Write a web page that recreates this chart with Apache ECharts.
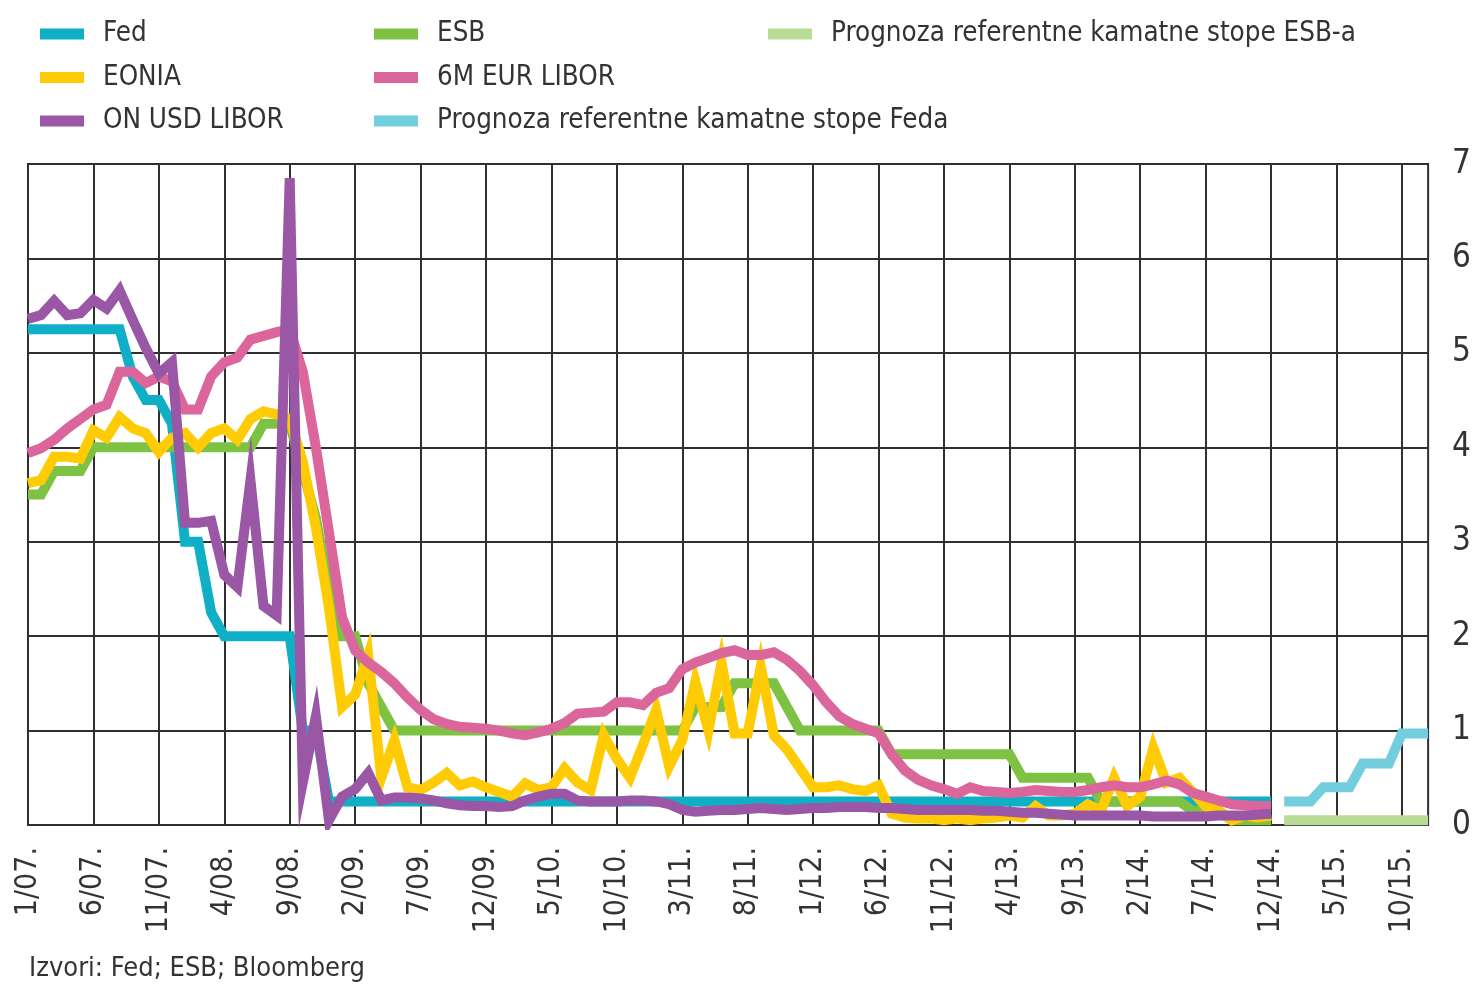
<!DOCTYPE html>
<html>
<head>
<meta charset="utf-8">
<script src="https://cdn.jsdelivr.net/npm/echarts@6/dist/echarts.min.js"></script>
<style>
html,body{margin:0;padding:0;background:#fff;}
#chart{width:1474px;height:985px;}
</style>
</head>
<body>
<div id="chart"></div>
<script>
var categories = [
"1/07.","2/07.","3/07.","4/07.","5/07.","6/07.","7/07.","8/07.","9/07.","10/07.","11/07.","12/07.",
"1/08.","2/08.","3/08.","4/08.","5/08.","6/08.","7/08.","8/08.","9/08.","10/08.","11/08.","12/08.",
"1/09.","2/09.","3/09.","4/09.","5/09.","6/09.","7/09.","8/09.","9/09.","10/09.","11/09.","12/09.",
"1/10.","2/10.","3/10.","4/10.","5/10.","6/10.","7/10.","8/10.","9/10.","10/10.","11/10.","12/10.",
"1/11.","2/11.","3/11.","4/11.","5/11.","6/11.","7/11.","8/11.","9/11.","10/11.","11/11.","12/11.",
"1/12.","2/12.","3/12.","4/12.","5/12.","6/12.","7/12.","8/12.","9/12.","10/12.","11/12.","12/12.",
"1/13.","2/13.","3/13.","4/13.","5/13.","6/13.","7/13.","8/13.","9/13.","10/13.","11/13.","12/13.",
"1/14.","2/14.","3/14.","4/14.","5/14.","6/14.","7/14.","8/14.","9/14.","10/14.","11/14.","12/14.",
"1/15.","2/15.","3/15.","4/15.","5/15.","6/15.","7/15.","8/15.","9/15.","10/15.","11/15.","12/15."
];

var fed = [
5.25,5.25,5.25,5.25,5.25,5.25,5.25,5.25,4.75,4.5,
4.5,4.25,3.0,3.0,2.25,2.0,2.0,2.0,2.0,2.0,
2.0,1.0,1.0,0.25,0.25,0.25,0.25,0.25,0.25,0.25,
0.25,0.25,0.25,0.25,0.25,0.25,0.25,0.25,0.25,0.25,
0.25,0.25,0.25,0.25,0.25,0.25,0.25,0.25,0.25,0.25,
0.25,0.25,0.25,0.25,0.25,0.25,0.25,0.25,0.25,0.25,
0.25,0.25,0.25,0.25,0.25,0.25,0.25,0.25,0.25,0.25,
0.25,0.25,0.25,0.25,0.25,0.25,0.25,0.25,0.25,0.25,
0.25,0.25,0.25,0.25,0.25,0.25,0.25,0.25,0.25,0.25,
0.25,0.25,0.25,0.25,0.25,0.25,null,null,null,null,
null,null,null,null,null,null,null,null
];

var esb = [
3.5,3.5,3.75,3.75,3.75,4.0,4.0,4.0,4.0,4.0,
4.0,4.0,4.0,4.0,4.0,4.0,4.0,4.0,4.25,4.25,
4.25,3.75,3.25,2.5,2.0,2.0,1.5,1.25,1.0,1.0,
1.0,1.0,1.0,1.0,1.0,1.0,1.0,1.0,1.0,1.0,
1.0,1.0,1.0,1.0,1.0,1.0,1.0,1.0,1.0,1.0,
1.0,1.25,1.25,1.25,1.5,1.5,1.5,1.5,1.25,1.0,
1.0,1.0,1.0,1.0,1.0,1.0,0.75,0.75,0.75,0.75,
0.75,0.75,0.75,0.75,0.75,0.75,0.5,0.5,0.5,0.5,
0.5,0.5,0.25,0.25,0.25,0.25,0.25,0.25,0.25,0.15,
0.15,0.15,0.05,0.05,0.05,0.05,null,null,null,null,
null,null,null,null,null,null,null,null
];

var eonia = [
3.62,3.65,3.9,3.9,3.88,4.18,4.1,4.32,4.2,4.15,
3.95,4.1,4.15,4.0,4.15,4.2,4.08,4.3,4.38,4.35,
4.3,3.85,3.15,2.3,1.25,1.38,1.8,0.5,0.9,0.4,
0.37,0.45,0.55,0.42,0.46,0.4,0.35,0.3,0.44,0.37,
0.4,0.6,0.45,0.37,0.95,0.7,0.5,0.85,1.22,0.62,
0.9,1.52,1.0,1.72,0.97,0.97,1.68,0.95,0.8,0.6,
0.4,0.4,0.42,0.38,0.36,0.42,0.12,0.08,0.07,0.07,
0.05,0.07,0.05,0.07,0.08,0.1,0.08,0.2,0.1,0.1,
0.12,0.22,0.15,0.5,0.2,0.3,0.82,0.45,0.5,0.35,
0.2,0.15,0.05,0.1,0.08,0.1,null,null,null,null,
null,null,null,null,null,null,null,null
];

var eurLibor6m = [
3.94,3.99,4.08,4.2,4.3,4.4,4.45,4.8,4.8,4.68,
4.75,4.7,4.4,4.4,4.75,4.9,4.95,5.14,5.18,5.22,
5.25,4.8,4.0,3.1,2.2,1.85,1.72,1.62,1.5,1.35,
1.22,1.12,1.07,1.04,1.03,1.02,1.0,0.97,0.95,0.98,
1.02,1.08,1.18,1.19,1.2,1.3,1.3,1.27,1.4,1.45,
1.65,1.72,1.77,1.82,1.85,1.8,1.8,1.83,1.75,1.63,
1.48,1.3,1.15,1.07,1.02,0.97,0.75,0.58,0.48,0.42,
0.38,0.33,0.4,0.36,0.35,0.34,0.35,0.37,0.36,0.35,
0.35,0.37,0.4,0.42,0.4,0.4,0.43,0.47,0.43,0.34,
0.3,0.26,0.22,0.21,0.2,0.2,null,null,null,null,
null,null,null,null,null,null,null,null
];

var usdLiborOn = [
5.36,5.4,5.55,5.4,5.42,5.56,5.47,5.66,5.35,5.05,
4.78,4.9,3.2,3.2,3.22,2.65,2.52,3.65,2.32,2.22,
6.85,0.45,1.15,0.05,0.3,0.38,0.55,0.26,0.29,0.29,
0.28,0.26,0.23,0.21,0.2,0.2,0.19,0.2,0.26,0.3,
0.33,0.33,0.26,0.25,0.25,0.25,0.26,0.26,0.25,0.22,
0.16,0.14,0.15,0.16,0.16,0.17,0.18,0.17,0.16,0.17,
0.18,0.18,0.19,0.19,0.19,0.18,0.18,0.17,0.16,0.16,
0.16,0.16,0.16,0.15,0.15,0.14,0.13,0.13,0.12,0.11,
0.1,0.1,0.1,0.1,0.1,0.1,0.09,0.09,0.09,0.09,
0.09,0.1,0.1,0.1,0.11,0.12,null,null,null,null,
null,null,null,null,null,null,null,null
];

var fedForecast = [
null,null,null,null,null,null,null,null,null,null,
null,null,null,null,null,null,null,null,null,null,
null,null,null,null,null,null,null,null,null,null,
null,null,null,null,null,null,null,null,null,null,
null,null,null,null,null,null,null,null,null,null,
null,null,null,null,null,null,null,null,null,null,
null,null,null,null,null,null,null,null,null,null,
null,null,null,null,null,null,null,null,null,null,
null,null,null,null,null,null,null,null,null,null,
null,null,null,null,null,null,0.25,0.25,0.25,0.4,
0.4,0.4,0.65,0.65,0.65,0.97,0.97,0.97
];

var esbForecast = [
null,null,null,null,null,null,null,null,null,null,
null,null,null,null,null,null,null,null,null,null,
null,null,null,null,null,null,null,null,null,null,
null,null,null,null,null,null,null,null,null,null,
null,null,null,null,null,null,null,null,null,null,
null,null,null,null,null,null,null,null,null,null,
null,null,null,null,null,null,null,null,null,null,
null,null,null,null,null,null,null,null,null,null,
null,null,null,null,null,null,null,null,null,null,
null,null,null,null,null,null,0.05,0.05,0.05,0.05,
0.05,0.05,0.05,0.05,0.05,0.05,0.05,0.05
];

var yTicks = [0,1,2,3,4,5,6,7];
var sourceText = "Izvori: Fed; ESB; Bloomberg";

var FONT = "'DejaVu Sans Condensed','DejaVu Sans',sans-serif";
var TXT = "#333333";
var GRIDC = "#303030";

function lineSeries(name, data, color) {
  return {
    name: name, type: 'line', data: data, color: color,
    showSymbol: false, symbol: 'none', connectNulls: false,
    lineStyle: {width: 10, color: color, join: 'miter'},
    emphasis: {disabled: true}
  };
}

var legendText = {fontFamily: FONT, fontSize: 27.5, color: TXT, lineHeight: 42, padding: [0,0,0,14]};

var option = {
  animation: false,
  backgroundColor: '#ffffff',
  textStyle: {fontFamily: FONT},
  title: {
    text: sourceText, left: 24, top: 950,
    textStyle: {fontFamily: FONT, fontSize: 27, fontWeight: 'normal', color: TXT}
  },
  legend: [
    {data: ['Fed','EONIA','ON USD LIBOR'], orient: 'vertical', left: 35, top: 8,
     itemWidth: 44, itemHeight: 11, itemGap: 1.5, icon: 'rect', textStyle: legendText, selectedMode: false},
    {data: ['ESB','6M EUR LIBOR','Prognoza referentne kamatne stope Feda'], orient: 'vertical', left: 369, top: 8,
     itemWidth: 44, itemHeight: 11, itemGap: 1.5, icon: 'rect', textStyle: legendText, selectedMode: false},
    {data: ['Prognoza referentne kamatne stope ESB-a'], orient: 'vertical', left: 763, top: 8,
     itemWidth: 44, itemHeight: 11, itemGap: 1.5, icon: 'rect', textStyle: legendText, selectedMode: false}
  ],
  grid: {left: 28, right: 42, top: 164, bottom: 160, show: true, borderColor: GRIDC, borderWidth: 2},
  xAxis: {
    type: 'category', data: categories, boundaryGap: false,
    axisLine: {show: true, lineStyle: {color: GRIDC, width: 2}},
    axisTick: {show: false},
    axisLabel: {interval: 4, rotate: 90, fontSize: 30, margin: 22, color: TXT, fontFamily: FONT},
    splitLine: {show: true, interval: 4, lineStyle: {color: GRIDC, width: 2}}
  },
  yAxis: {
    type: 'value', position: 'right', min: yTicks[0], max: yTicks[yTicks.length-1], interval: 1,
    axisLine: {show: false}, axisTick: {show: false},
    axisLabel: {fontSize: 33, margin: 24, color: TXT, fontFamily: FONT},
    splitLine: {show: true, lineStyle: {color: GRIDC, width: 2}}
  },
  series: [
    lineSeries('Fed', fed, '#0FB0C6'),
    lineSeries('ESB', esb, '#7DC243'),
    lineSeries('EONIA', eonia, '#FFCB05'),
    lineSeries('6M EUR LIBOR', eurLibor6m, '#DA669C'),
    lineSeries('ON USD LIBOR', usdLiborOn, '#9957A5'),
    lineSeries('Prognoza referentne kamatne stope Feda', fedForecast, '#72CEDD'),
    lineSeries('Prognoza referentne kamatne stope ESB-a', esbForecast, '#B7DC96')
  ]
};

var chart = echarts.init(document.getElementById('chart'), null, {renderer: 'canvas'});
chart.setOption(option);
</script>
</body>
</html>
